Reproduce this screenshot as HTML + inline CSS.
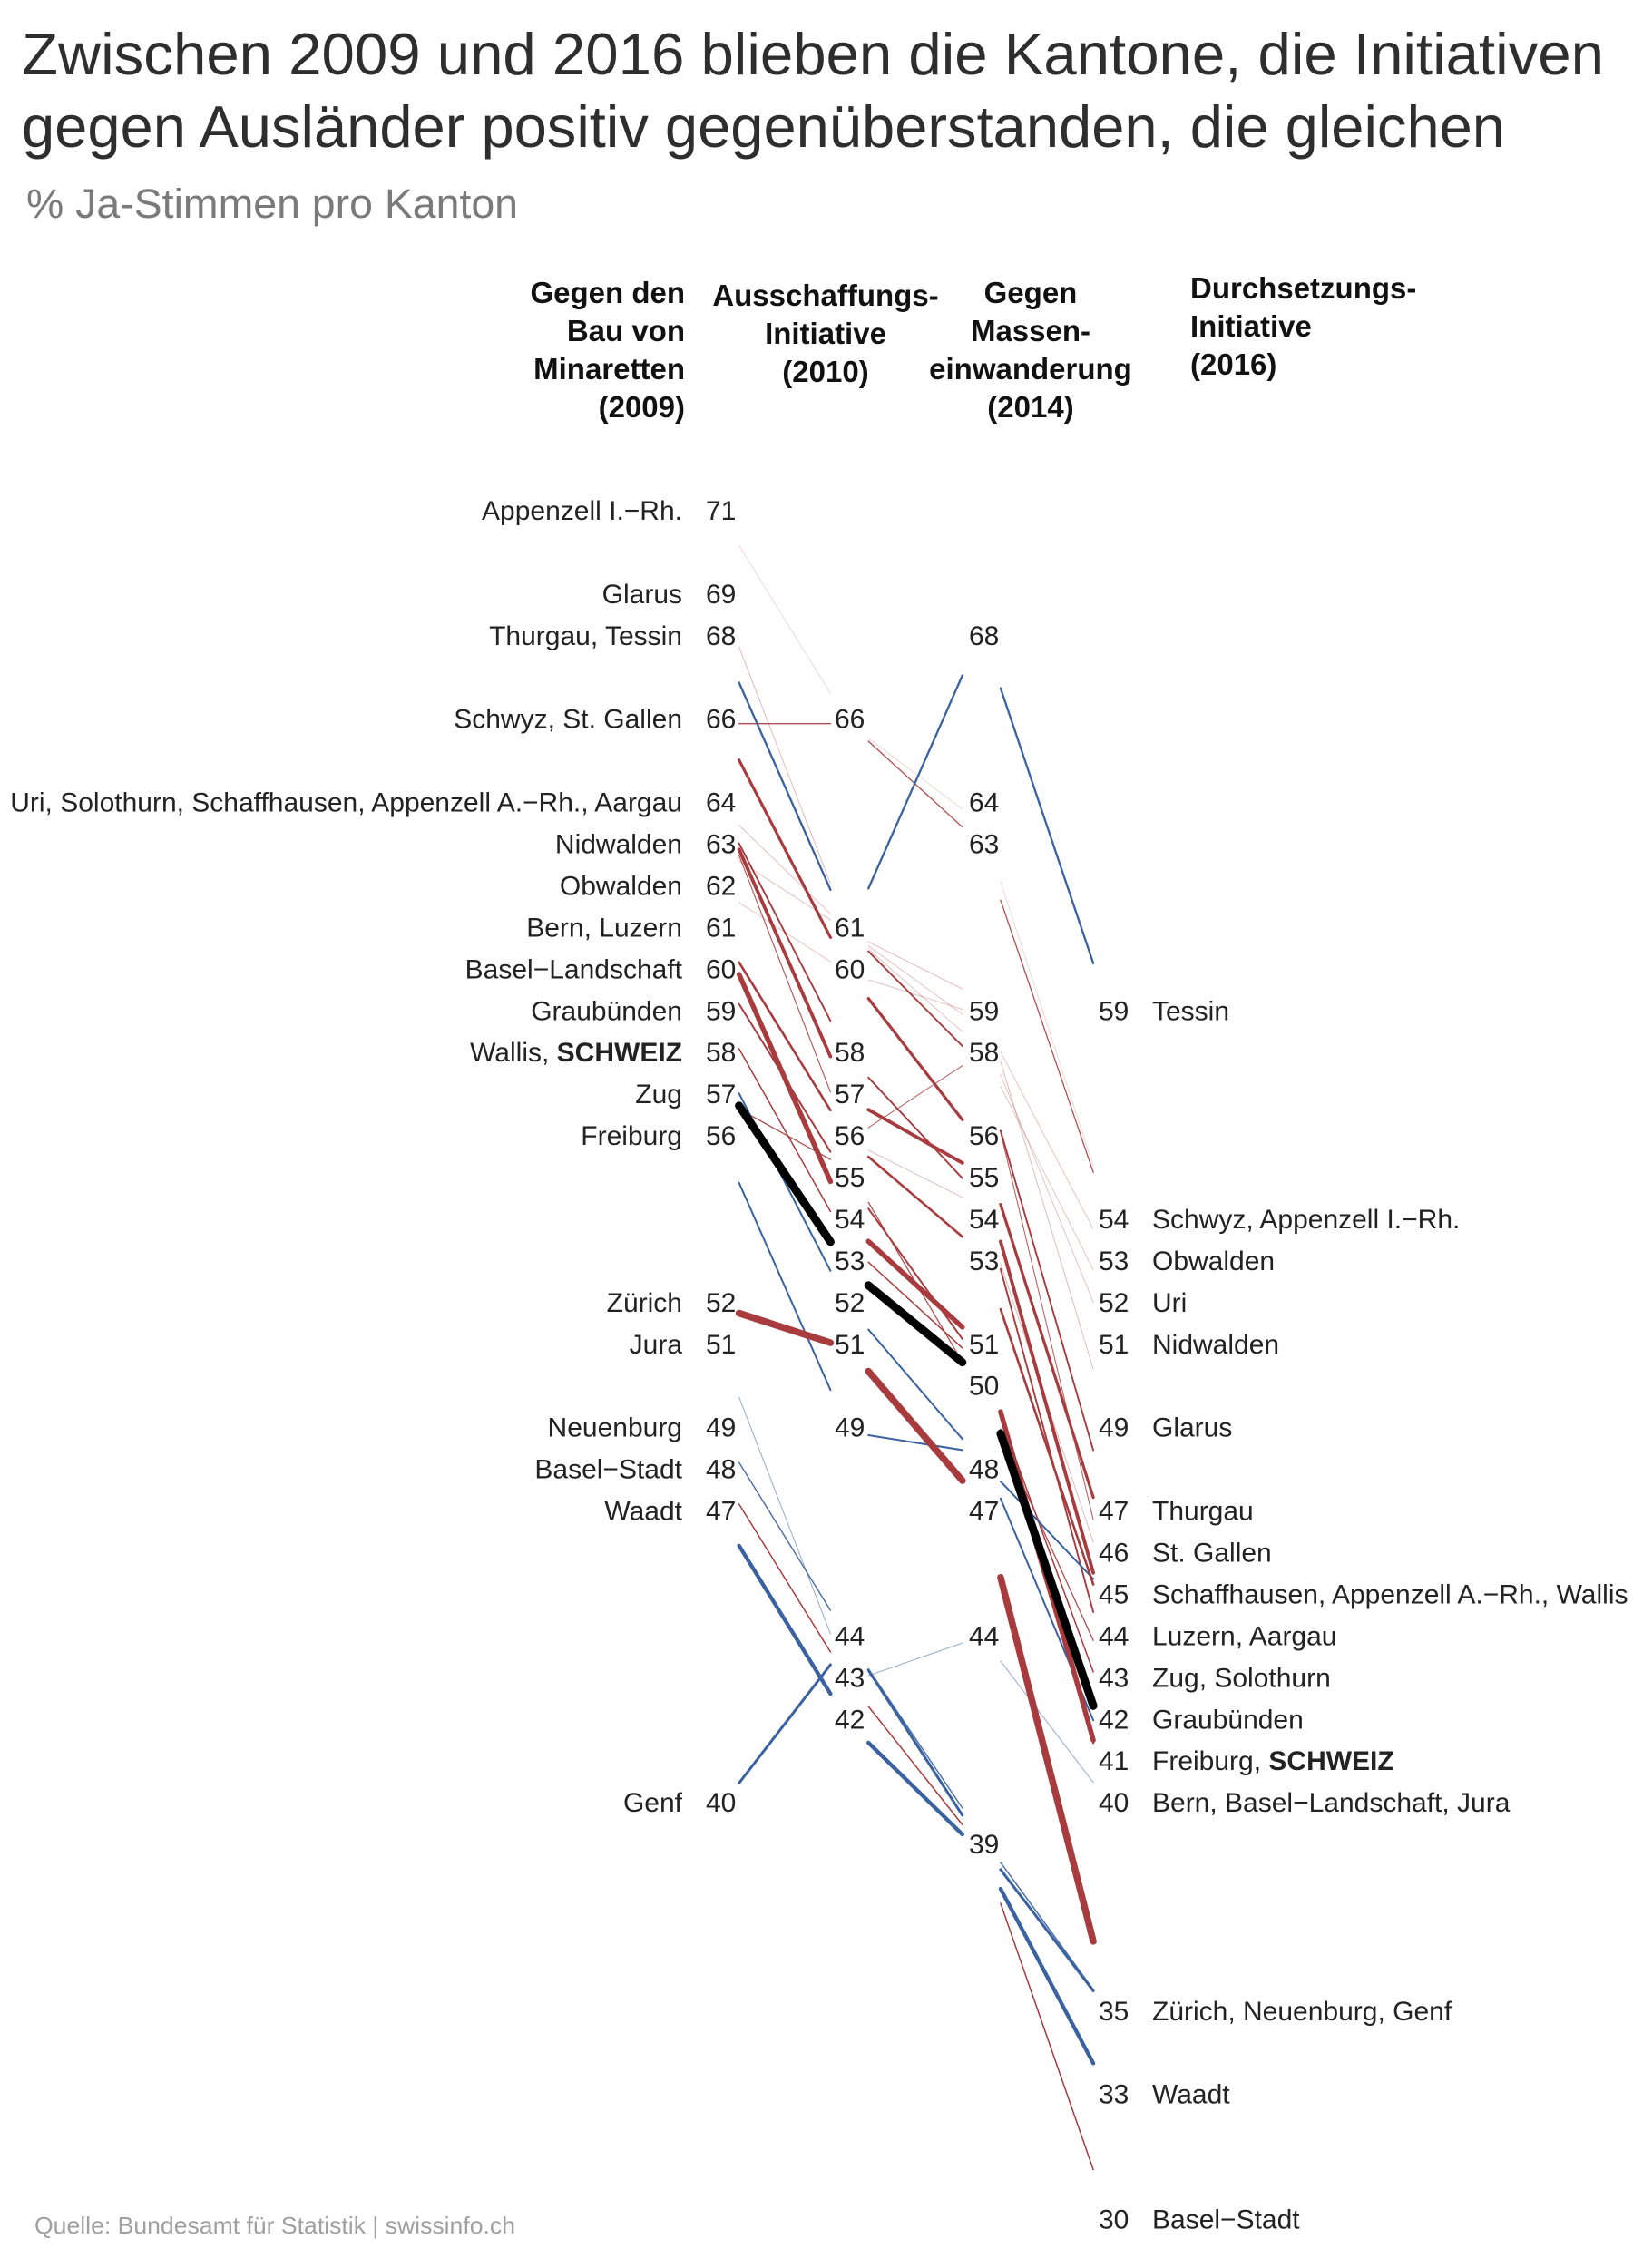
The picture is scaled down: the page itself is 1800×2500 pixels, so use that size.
<!DOCTYPE html>
<html>
<head>
<meta charset="utf-8">
<style>
html,body{margin:0;padding:0;background:#fff;}
svg{display:block;}
text{font-family:"Liberation Sans",Arial,sans-serif;}
</style>
</head>
<body>
<svg width="1800" height="2500" viewBox="0 0 1800 2500" xmlns="http://www.w3.org/2000/svg">
<rect width="1800" height="2500" fill="#fff"/>

<!-- Title -->
<text x="24" y="82" font-size="65" fill="#2e2e2e" textLength="1744" lengthAdjust="spacingAndGlyphs">Zwischen 2009 und 2016 blieben die Kantone, die Initiativen</text>
<text x="24" y="162" font-size="65" fill="#2e2e2e" textLength="1635" lengthAdjust="spacingAndGlyphs">gegen Ausländer positiv gegenüberstanden, die gleichen</text>
<text x="29" y="240" font-size="45" fill="#7a7a7a" textLength="542" lengthAdjust="spacingAndGlyphs">% Ja-Stimmen pro Kanton</text>

<!-- Column headers -->
<g font-size="33" font-weight="bold" fill="#111">
  <g text-anchor="end">
    <text x="755" y="334">Gegen den</text>
    <text x="755" y="376">Bau von</text>
    <text x="755" y="418">Minaretten</text>
    <text x="755" y="460">(2009)</text>
  </g>
  <g text-anchor="middle">
    <text x="910" y="337">Ausschaffungs-</text>
    <text x="910" y="379">Initiative</text>
    <text x="910" y="421">(2010)</text>
    <text x="1136" y="334">Gegen</text>
    <text x="1136" y="376">Massen-</text>
    <text x="1136" y="418">einwanderung</text>
    <text x="1136" y="460">(2014)</text>
  </g>
  <g text-anchor="start">
    <text x="1312" y="329">Durchsetzungs-</text>
    <text x="1312" y="371">Initiative</text>
    <text x="1312" y="413">(2016)</text>
  </g>
</g>

<!-- Lines -->
<g stroke-linecap="round" fill="none">
  <g stroke="#a83b3d" stroke-width="1" opacity="0.2">
    <line x1="814.6" y1="601.3" x2="915.4" y2="764.4"/>
    <line x1="957.2" y1="813.7" x2="1060.8" y2="891.9"/>
    <line x1="1102.9" y1="971.9" x2="1205.1" y2="1285.0"/>
  </g>
  <g stroke="#a83b3d" stroke-width="1" opacity="0.3">
    <line x1="814.6" y1="994.8" x2="915.4" y2="1060.0"/>
    <line x1="957.2" y1="1080.0" x2="1060.8" y2="1112.6"/>
    <line x1="1102.9" y1="1159.3" x2="1205.1" y2="1354.9"/>
  </g>
  <g stroke="#a83b3d" stroke-width="1" opacity="0.3">
    <line x1="814.6" y1="909.6" x2="915.4" y2="1007.4"/>
    <line x1="957.2" y1="1046.1" x2="1060.8" y2="1137.4"/>
    <line x1="1102.9" y1="1197.4" x2="1205.1" y2="1399.5"/>
  </g>
  <g stroke="#a83b3d" stroke-width="1" opacity="0.3">
    <line x1="814.6" y1="948.8" x2="915.4" y2="1014.1"/>
    <line x1="957.2" y1="1042.7" x2="1060.8" y2="1117.8"/>
    <line x1="1102.9" y1="1184.4" x2="1205.1" y2="1435.5"/>
  </g>
  <g stroke="#a83b3d" stroke-width="1" opacity="0.35">
    <line x1="814.6" y1="713.2" x2="915.4" y2="974.1"/>
    <line x1="957.2" y1="1038.1" x2="1060.8" y2="1090.2"/>
    <line x1="1102.9" y1="1170.2" x2="1205.1" y2="1509.4"/>
  </g>
  <g stroke="#a83b3d" stroke-width="1" opacity="0.35">
    <line x1="814.6" y1="942.9" x2="915.4" y2="1203.8"/>
    <line x1="957.2" y1="1267.8" x2="1060.8" y2="1319.9"/>
    <line x1="1102.9" y1="1393.2" x2="1205.1" y2="1699.8"/>
  </g>
  <g stroke="#3a62a0" stroke-width="1.1" opacity="0.5">
    <line x1="814.6" y1="1540.1" x2="915.4" y2="1801.0"/>
    <line x1="957.2" y1="1847.0" x2="1060.8" y2="1811.1"/>
    <line x1="1102.9" y1="1831.1" x2="1205.1" y2="1964.8"/>
  </g>
  <g stroke="#a83b3d" stroke-width="1.1" opacity="0.8">
    <line x1="814.6" y1="942.9" x2="915.4" y2="1203.8"/>
    <line x1="957.2" y1="1243.1" x2="1060.8" y2="1174.7"/>
    <line x1="1102.9" y1="1247.9" x2="1205.1" y2="1675.2"/>
  </g>
  <g stroke="#a83b3d" stroke-width="1.3" opacity="0.9">
    <line x1="814.6" y1="1222.5" x2="915.4" y2="1278.0"/>
    <line x1="957.2" y1="1325.3" x2="1060.8" y2="1501.4"/>
    <line x1="1102.9" y1="1583.4" x2="1205.1" y2="1808.3"/>
  </g>
  <g stroke="#a83b3d" stroke-width="1.3" opacity="0.9">
    <line x1="814.6" y1="797.7" x2="915.4" y2="797.7"/>
    <line x1="957.2" y1="817.0" x2="1060.8" y2="911.6"/>
    <line x1="1102.9" y1="992.2" x2="1205.1" y2="1292.3"/>
  </g>
  <g stroke="#3a62a0" stroke-width="1.5" opacity="0.9">
    <line x1="814.6" y1="1612.0" x2="915.4" y2="1775.1"/>
    <line x1="957.2" y1="1839.7" x2="1060.8" y2="1993.0"/>
    <line x1="1102.9" y1="2052.9" x2="1205.1" y2="2193.2"/>
  </g>
  <g stroke="#a83b3d" stroke-width="1.5">
    <line x1="814.6" y1="1657.9" x2="915.4" y2="1821.0"/>
    <line x1="957.2" y1="1881.0" x2="1060.8" y2="2011.4"/>
    <line x1="1102.9" y1="2098.0" x2="1205.1" y2="2391.6"/>
  </g>
  <g stroke="#a83b3d" stroke-width="1.5">
    <line x1="814.6" y1="1155.9" x2="915.4" y2="1335.4"/>
    <line x1="957.2" y1="1391.3" x2="1060.8" y2="1485.9"/>
    <line x1="1102.9" y1="1562.5" x2="1205.1" y2="1843.0"/>
  </g>
  <g stroke="#a83b3d" stroke-width="1.9">
    <line x1="814.6" y1="752.4" x2="915.4" y2="980.8"/>
    <line x1="957.2" y1="1048.7" x2="1060.8" y2="1153.1"/>
    <line x1="1102.9" y1="1246.3" x2="1205.1" y2="1598.6"/>
  </g>
  <g stroke="#a83b3d" stroke-width="1.9">
    <line x1="814.6" y1="929.6" x2="915.4" y2="1125.2"/>
    <line x1="957.2" y1="1187.8" x2="1060.8" y2="1298.8"/>
    <line x1="1102.9" y1="1398.7" x2="1205.1" y2="1777.0"/>
  </g>
  <g stroke="#a83b3d" stroke-width="2">
    <line x1="814.6" y1="1106.6" x2="915.4" y2="1269.7"/>
    <line x1="957.2" y1="1332.3" x2="1060.8" y2="1475.9"/>
    <line x1="1102.9" y1="1575.8" x2="1205.1" y2="1921.5"/>
  </g>
  <g stroke="#3a62a0" stroke-width="2">
    <line x1="814.6" y1="1303.7" x2="915.4" y2="1532.1"/>
    <line x1="957.2" y1="1582.0" x2="1060.8" y2="1598.4"/>
    <line x1="1102.9" y1="1651.7" x2="1205.1" y2="1896.2"/>
  </g>
  <g stroke="#3a62a0" stroke-width="2">
    <line x1="814.6" y1="1205.2" x2="915.4" y2="1400.8"/>
    <line x1="957.2" y1="1465.5" x2="1060.8" y2="1586.2"/>
    <line x1="1102.9" y1="1632.9" x2="1205.1" y2="1740.4"/>
  </g>
  <g stroke="#3a62a0" stroke-width="2.3">
    <line x1="814.6" y1="752.4" x2="915.4" y2="980.8"/>
    <line x1="957.2" y1="979.4" x2="1060.8" y2="744.6"/>
    <line x1="1102.9" y1="758.6" x2="1205.1" y2="1061.9"/>
  </g>
  <g stroke="#a83b3d" stroke-width="2.6">
    <line x1="814.6" y1="1060.7" x2="915.4" y2="1223.8"/>
    <line x1="957.2" y1="1275.1" x2="1060.8" y2="1363.2"/>
    <line x1="1102.9" y1="1443.1" x2="1205.1" y2="1746.5"/>
  </g>
  <g stroke="#3a62a0" stroke-width="3">
    <line x1="814.6" y1="1965.5" x2="915.4" y2="1835.0"/>
    <line x1="957.2" y1="1841.0" x2="1060.8" y2="2000.9"/>
    <line x1="1102.9" y1="2060.8" x2="1205.1" y2="2194.5"/>
  </g>
  <g stroke="#a83b3d" stroke-width="3.2">
    <line x1="814.6" y1="837.7" x2="915.4" y2="1033.3"/>
    <line x1="957.2" y1="1100.6" x2="1060.8" y2="1234.4"/>
    <line x1="1102.9" y1="1327.6" x2="1205.1" y2="1650.6"/>
  </g>
  <g stroke="#a83b3d" stroke-width="3.8">
    <line x1="814.6" y1="936.2" x2="915.4" y2="1164.6"/>
    <line x1="957.2" y1="1223.2" x2="1060.8" y2="1281.9"/>
    <line x1="1102.9" y1="1368.5" x2="1205.1" y2="1733.8"/>
  </g>
  <g stroke="#3a62a0" stroke-width="4.3">
    <line x1="814.6" y1="1703.8" x2="915.4" y2="1867.0"/>
    <line x1="957.2" y1="1920.9" x2="1060.8" y2="2022.1"/>
    <line x1="1102.9" y1="2082.0" x2="1205.1" y2="2274.4"/>
  </g>
  <g stroke="#a83b3d" stroke-width="5.5">
    <line x1="814.6" y1="1074.0" x2="915.4" y2="1302.4"/>
    <line x1="957.2" y1="1368.3" x2="1060.8" y2="1462.9"/>
    <line x1="1102.9" y1="1556.1" x2="1205.1" y2="1918.2"/>
  </g>
  <g stroke="#a83b3d" stroke-width="7.5">
    <line x1="814.6" y1="1447.5" x2="915.4" y2="1480.1"/>
    <line x1="957.2" y1="1511.5" x2="1060.8" y2="1632.1"/>
    <line x1="1102.9" y1="1738.7" x2="1205.1" y2="2139.9"/>
  </g>
  <g stroke="#000" stroke-width="9">
    <line x1="814.6" y1="1218.8" x2="915.4" y2="1368.9"/>
    <line x1="957.2" y1="1416.8" x2="1060.8" y2="1501.7"/>
    <line x1="1102.9" y1="1580.3" x2="1205.1" y2="1880.3"/>
  </g>
</g>

<!-- Labels -->
<g font-size="30" fill="#222" transform="translate(0,-5)">
  <g text-anchor="end">
    <text x="752" y="578.0">Appenzell I.−Rh.</text>
    <text x="752" y="669.9">Glarus</text>
    <text x="752" y="715.8">Thurgau, Tessin</text>
    <text x="752" y="807.7">Schwyz, St. Gallen</text>
    <text x="752" y="899.6">Uri, Solothurn, Schaffhausen, Appenzell A.−Rh., Aargau</text>
    <text x="752" y="945.5">Nidwalden</text>
    <text x="752" y="991.5">Obwalden</text>
    <text x="752" y="1037.4">Bern, Luzern</text>
    <text x="752" y="1083.3">Basel−Landschaft</text>
    <text x="752" y="1129.3">Graubünden</text>
    <text x="752" y="1175.2">Wallis, <tspan font-weight="bold">SCHWEIZ</tspan></text>
    <text x="752" y="1221.2">Zug</text>
    <text x="752" y="1267.1">Freiburg</text>
    <text x="752" y="1450.8">Zürich</text>
    <text x="752" y="1496.8">Jura</text>
    <text x="752" y="1588.7">Neuenburg</text>
    <text x="752" y="1634.6">Basel−Stadt</text>
    <text x="752" y="1680.5">Waadt</text>
    <text x="752" y="2002.1">Genf</text>
  </g>
  <g>
    <text x="778" y="578.0">71</text>
    <text x="778" y="669.9">69</text>
    <text x="778" y="715.8">68</text>
    <text x="778" y="807.7">66</text>
    <text x="778" y="899.6">64</text>
    <text x="778" y="945.5">63</text>
    <text x="778" y="991.5">62</text>
    <text x="778" y="1037.4">61</text>
    <text x="778" y="1083.3">60</text>
    <text x="778" y="1129.3">59</text>
    <text x="778" y="1175.2">58</text>
    <text x="778" y="1221.2">57</text>
    <text x="778" y="1267.1">56</text>
    <text x="778" y="1450.8">52</text>
    <text x="778" y="1496.8">51</text>
    <text x="778" y="1588.7">49</text>
    <text x="778" y="1634.6">48</text>
    <text x="778" y="1680.5">47</text>
    <text x="778" y="2002.1">40</text>
  </g>

  <g>
    <text x="920" y="807.7">66</text>
    <text x="920" y="1037.4">61</text>
    <text x="920" y="1083.3">60</text>
    <text x="920" y="1175.2">58</text>
    <text x="920" y="1221.2">57</text>
    <text x="920" y="1267.1">56</text>
    <text x="920" y="1313.0">55</text>
    <text x="920" y="1359.0">54</text>
    <text x="920" y="1404.9">53</text>
    <text x="920" y="1450.8">52</text>
    <text x="920" y="1496.8">51</text>
    <text x="920" y="1588.7">49</text>
    <text x="920" y="1818.4">44</text>
    <text x="920" y="1864.3">43</text>
    <text x="920" y="1910.3">42</text>
  </g>

  <g>
    <text x="1068" y="715.8">68</text>
    <text x="1068" y="899.6">64</text>
    <text x="1068" y="945.5">63</text>
    <text x="1068" y="1129.3">59</text>
    <text x="1068" y="1175.2">58</text>
    <text x="1068" y="1267.1">56</text>
    <text x="1068" y="1313.0">55</text>
    <text x="1068" y="1359.0">54</text>
    <text x="1068" y="1404.9">53</text>
    <text x="1068" y="1496.8">51</text>
    <text x="1068" y="1542.7">50</text>
    <text x="1068" y="1634.6">48</text>
    <text x="1068" y="1680.5">47</text>
    <text x="1068" y="1818.4">44</text>
    <text x="1068" y="2048.1">39</text>
  </g>

  <g>
    <text x="1211" y="1129.3">59</text>
    <text x="1211" y="1359.0">54</text>
    <text x="1211" y="1404.9">53</text>
    <text x="1211" y="1450.8">52</text>
    <text x="1211" y="1496.8">51</text>
    <text x="1211" y="1588.7">49</text>
    <text x="1211" y="1680.5">47</text>
    <text x="1211" y="1726.5">46</text>
    <text x="1211" y="1772.4">45</text>
    <text x="1211" y="1818.4">44</text>
    <text x="1211" y="1864.3">43</text>
    <text x="1211" y="1910.3">42</text>
    <text x="1211" y="1956.2">41</text>
    <text x="1211" y="2002.1">40</text>
    <text x="1211" y="2231.8">35</text>
    <text x="1211" y="2323.7">33</text>
    <text x="1211" y="2461.5">30</text>
  </g>
  <g>
    <text x="1270" y="1129.3">Tessin</text>
    <text x="1270" y="1359.0">Schwyz, Appenzell I.−Rh.</text>
    <text x="1270" y="1404.9">Obwalden</text>
    <text x="1270" y="1450.8">Uri</text>
    <text x="1270" y="1496.8">Nidwalden</text>
    <text x="1270" y="1588.7">Glarus</text>
    <text x="1270" y="1680.5">Thurgau</text>
    <text x="1270" y="1726.5">St. Gallen</text>
    <text x="1270" y="1772.4">Schaffhausen, Appenzell A.−Rh., Wallis</text>
    <text x="1270" y="1818.4">Luzern, Aargau</text>
    <text x="1270" y="1864.3">Zug, Solothurn</text>
    <text x="1270" y="1910.3">Graubünden</text>
    <text x="1270" y="1956.2">Freiburg, <tspan font-weight="bold">SCHWEIZ</tspan></text>
    <text x="1270" y="2002.1">Bern, Basel−Landschaft, Jura</text>
    <text x="1270" y="2231.8">Zürich, Neuenburg, Genf</text>
    <text x="1270" y="2323.7">Waadt</text>
    <text x="1270" y="2461.5">Basel−Stadt</text>
  </g>
</g>

<!-- Source -->
<text x="38" y="2462" font-size="26" fill="#a0a0a0" textLength="530" lengthAdjust="spacingAndGlyphs">Quelle: Bundesamt für Statistik | swissinfo.ch</text>
</svg>
</body>
</html>
